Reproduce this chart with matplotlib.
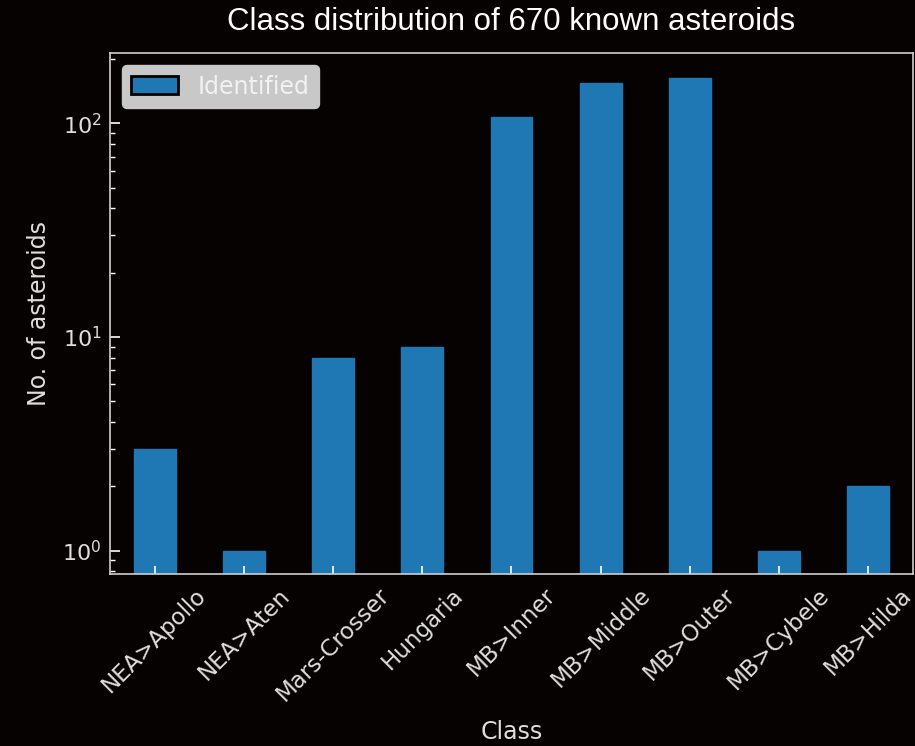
import matplotlib
matplotlib.use("Agg")
import matplotlib.pyplot as plt
import numpy as np

categories = ["NEA>Apollo", "NEA>Aten", "Mars-Crosser", "Hungaria", "MB>Inner",
              "MB>Middle", "MB>Outer", "MB>Cybele", "MB>Hilda"]
counts = [3, 1, 8, 9, 107, 154, 163, 1, 2]
series_label = "Identified"
title = "Class distribution of 670 known asteroids"

bg = "#060202"
fg = "#dedede"

fig = plt.figure(figsize=(9.15, 7.46), dpi=100, facecolor=bg)
ax = fig.add_axes([0.1202, 0.2306, 0.8776, 0.6979], facecolor=bg)

x = np.arange(len(categories))
ax.bar(x, counts, width=0.47, color="#1f77b4", edgecolor="#1f77b4",
       label=series_label)
ax.set_yscale("log")
ax.set_xlim(-0.5, len(categories) - 0.5)
ax.set_ylim(0.778, 213)

ax.set_xticks(x)
ax.set_xticklabels(categories, rotation=45, ha="center",
                   fontsize=16.5, color=fg)
ax.tick_params(axis="x", direction="in", colors="white", length=6, width=1.2,
               labelcolor=fg, pad=7)
ax.tick_params(axis="y", which="major", direction="in", colors="white",
               length=7, width=1.2, labelcolor=fg, labelsize=16, pad=6)
ax.tick_params(axis="y", which="minor", direction="in", colors="white",
               length=3.5, width=1)

for s in ax.spines.values():
    s.set_color("#cfcfcf")
    s.set_linewidth(1.2)

ax.set_xlabel("Class", fontsize=17, color=fg, labelpad=10)
ax.set_ylabel("No. of asteroids", fontsize=17, color=fg, labelpad=8)
fig.suptitle(title, x=0.559, y=0.99, fontsize=22.5, color="white",
             family="Liberation Sans")

leg = ax.legend(loc="upper left", fontsize=17, frameon=True, fancybox=True,
                facecolor="#c8c8c8", edgecolor="#c8c8c8", framealpha=1.0,
                handlelength=2.0, handleheight=0.8, borderpad=0.4,
                borderaxespad=0.5)
for t in leg.get_texts():
    t.set_color("#f2f2f2")
for h in leg.legend_handles:
    h.set_edgecolor("black")
    h.set_linewidth(2)

fig.savefig("out.png", dpi=100, facecolor=bg)
